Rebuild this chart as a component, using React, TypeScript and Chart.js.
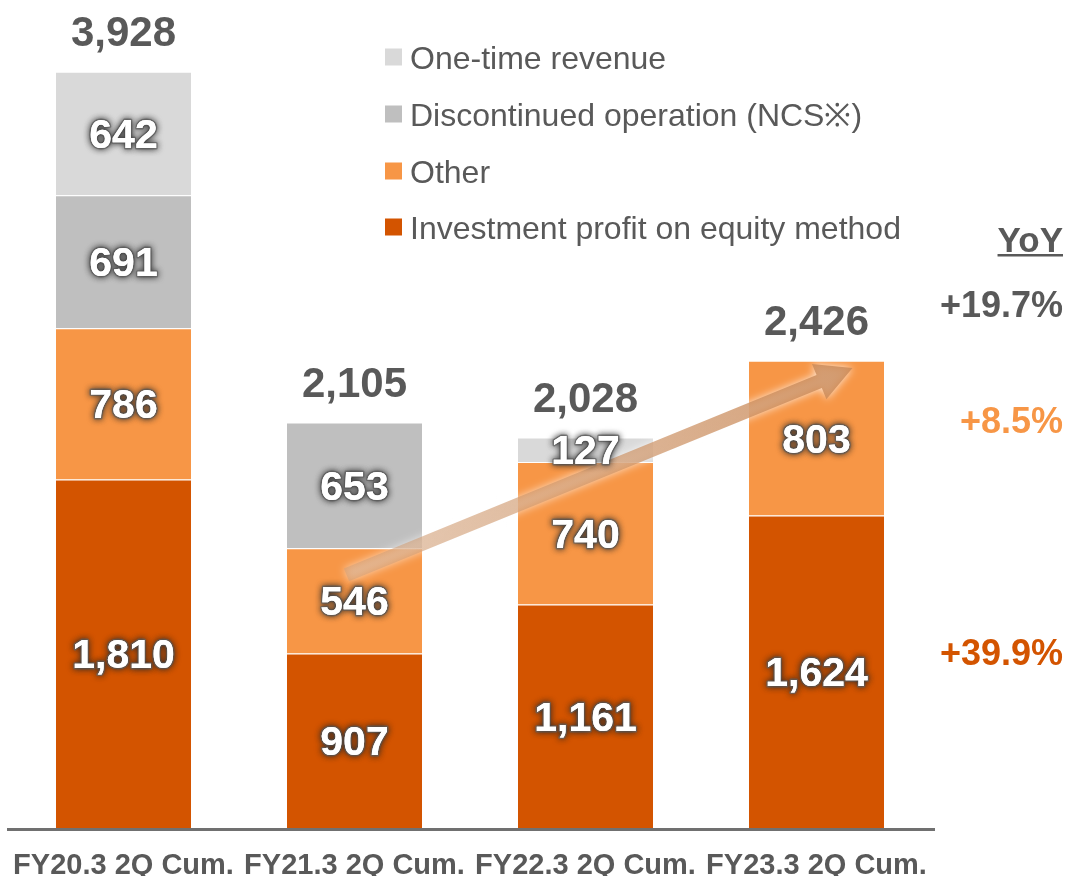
import React, { useEffect, useRef } from "react";
import { Chart, registerables } from "chart.js";

Chart.register(...registerables);

const categories = ["FY20.3 2Q Cum.", "FY21.3 2Q Cum.", "FY22.3 2Q Cum.", "FY23.3 2Q Cum."];
const investmentProfit = [1810, 907, 1161, 1624];
const otherValues = [786, 546, 740, 803];
const discontinuedValues = [691, 653, 0, 0];
const oneTimeValues = [642, 0, 127, 0];
const totals = [3928, 2105, 2028, 2426];
const yoyTitle = "YoY";
const yoyLabels = ["+19.7%", "+8.5%", "+39.9%"];

const FONT = "'Liberation Sans', Arial, sans-serif";
const TEXT = "#595959";
const C_DARK = "#D35400";
const C_ORANGE = "#F79646";
const C_GRAY = "#BFBFBF";
const C_LIGHT = "#D9D9D9";

const fmt = (v: number) => v.toLocaleString("en-US");

const overlayPlugin = {
  id: "overlay",
  afterDatasetsDraw(chart: any) {
    const ctx = chart.ctx as CanvasRenderingContext2D;
    const x = chart.scales.x;
    const y = chart.scales.y;
    const area = chart.chartArea;

    // axis line
    ctx.save();
    ctx.strokeStyle = "#707070";
    ctx.lineWidth = 3;
    ctx.beginPath();
    ctx.moveTo(area.left - 1, area.bottom + 1.5);
    ctx.lineTo(area.right + 3, area.bottom + 1.5);
    ctx.stroke();
    ctx.restore();

    // arrow (trend from FY21.3 to FY23.3)
    const x0 = x.getPixelForValue(1) - 8;
    const y0 = y.getPixelForValue(1315);
    const x1 = x.getPixelForValue(3) + 36;
    const y1 = y.getPixelForValue(2390);
    const ang = Math.atan2(y1 - y0, x1 - x0);
    const len = Math.hypot(x1 - x0, y1 - y0);
    ctx.save();
    ctx.translate(x0, y0);
    ctx.rotate(ang);
    const grad = ctx.createLinearGradient(0, 0, len, 0);
    grad.addColorStop(0, "rgba(210,160,120,0.55)");
    grad.addColorStop(1, "rgba(200,135,85,0.8)");
    ctx.shadowColor = "rgba(255,255,255,1)";
    ctx.shadowBlur = 9;
    ctx.fillStyle = grad;
    const sh = 7;
    const headL = 36;
    const headW = 19;
    ctx.beginPath();
    ctx.moveTo(0, -sh);
    ctx.lineTo(len - headL, -sh);
    ctx.lineTo(len - headL, -headW);
    ctx.lineTo(len, 0);
    ctx.lineTo(len - headL, headW);
    ctx.lineTo(len - headL, sh);
    ctx.lineTo(0, sh);
    ctx.closePath();
    ctx.fill();
    ctx.restore();

    // segment labels with dark glow
    chart.data.datasets.forEach((ds: any, di: number) => {
      const meta = chart.getDatasetMeta(di);
      meta.data.forEach((bar: any, i: number) => {
        const v = ds.data[i];
        if (!v) return;
        const cy = (bar.y + bar.base) / 2;
        const by = cy + 14.5;
        ctx.save();
        ctx.font = `bold 41px ${FONT}`;
        ctx.textAlign = "center";
        ctx.textBaseline = "alphabetic";
        ctx.lineJoin = "round";
        ctx.shadowColor = "rgba(40,40,40,0.9)";
        ctx.shadowBlur = 6;
        ctx.strokeStyle = "rgba(110,110,110,0.7)";
        ctx.lineWidth = 3;
        ctx.strokeText(fmt(v), bar.x, by);
        ctx.fillStyle = "#FFFFFF";
        ctx.fillText(fmt(v), bar.x, by);
        ctx.shadowBlur = 0;
        ctx.shadowColor = "transparent";
        ctx.fillText(fmt(v), bar.x, by);
        ctx.restore();
      });
    });

    // totals
    ctx.save();
    ctx.font = `bold 42px ${FONT}`;
    ctx.textAlign = "center";
    ctx.fillStyle = TEXT;
    totals.forEach((t, i) => {
      const top = y.getPixelForValue(t);
      ctx.fillText(fmt(t), x.getPixelForValue(i), top - 26);
    });
    ctx.restore();

    // x labels
    ctx.save();
    ctx.font = `bold 29px ${FONT}`;
    ctx.textAlign = "center";
    ctx.fillStyle = TEXT;
    categories.forEach((c, i) => {
      ctx.fillText(c, x.getPixelForValue(i), 874);
    });
    ctx.restore();

    // legend
    const items = [...chart.data.datasets].reverse();
    const legendY = [57, 114, 171, 227];
    ctx.save();
    ctx.font = `32px ${FONT}`;
    ctx.textAlign = "left";
    items.forEach((ds: any, k: number) => {
      const cy = legendY[k];
      ctx.fillStyle = ds.backgroundColor;
      ctx.fillRect(385, cy - 8.5, 17, 17);
      ctx.fillStyle = TEXT;
      ctx.fillText(ds.label, 410, cy + 11.5);
    });
    ctx.restore();

    // YoY
    ctx.save();
    ctx.textAlign = "right";
    ctx.fillStyle = TEXT;
    ctx.font = `bold 35px ${FONT}`;
    ctx.fillText(yoyTitle, 1063, 252);
    const w = ctx.measureText(yoyTitle).width;
    ctx.fillRect(1063 - w, 254, w, 2.5);
    ctx.font = `bold 36px ${FONT}`;
    const yoyColors = [TEXT, C_ORANGE, C_DARK];
    const yoyBase = [317, 433, 665];
    yoyLabels.forEach((l, k) => {
      ctx.fillStyle = yoyColors[k];
      ctx.fillText(l, 1063, yoyBase[k]);
    });
    ctx.restore();
  },
};

export default function App() {
  const ref = useRef<HTMLCanvasElement | null>(null);
  useEffect(() => {
    if (!ref.current) return;
    const mk = (label: string, data: number[], color: string) => ({
      label,
      data,
      backgroundColor: color,
      borderColor: "rgba(255,255,255,0.55)",
      borderWidth: { top: 1, left: 0, right: 0, bottom: 0 },
      borderSkipped: false,
      barPercentage: 0.585,
      categoryPercentage: 1.0,
    });
    const chart = new Chart(ref.current, {
      type: "bar",
      data: {
        labels: categories,
        datasets: [
          mk("Investment profit on equity method", investmentProfit, C_DARK),
          mk("Other", otherValues, C_ORANGE),
          mk("Discontinued operation (NCS※)", discontinuedValues, C_GRAY),
          mk("One-time revenue", oneTimeValues, C_LIGHT),
        ],
      },
      options: {
        responsive: false,
        animation: false,
        layout: { padding: { left: 8, right: 136, top: 58, bottom: 48 } },
        plugins: { legend: { display: false }, tooltip: { enabled: false } },
        scales: {
          x: { stacked: true, display: false },
          y: { stacked: true, display: false, min: 0, max: 4000 },
        },
      },
      plugins: [overlayPlugin],
    });
    return () => chart.destroy();
  }, []);
  return (
    <div style={{ position: "absolute", left: 0, top: 0, width: 1068, height: 876, background: "#fff" }}>
      <canvas ref={ref} width={1068} height={876} style={{ width: 1068, height: 876 }} />
    </div>
  );
}
